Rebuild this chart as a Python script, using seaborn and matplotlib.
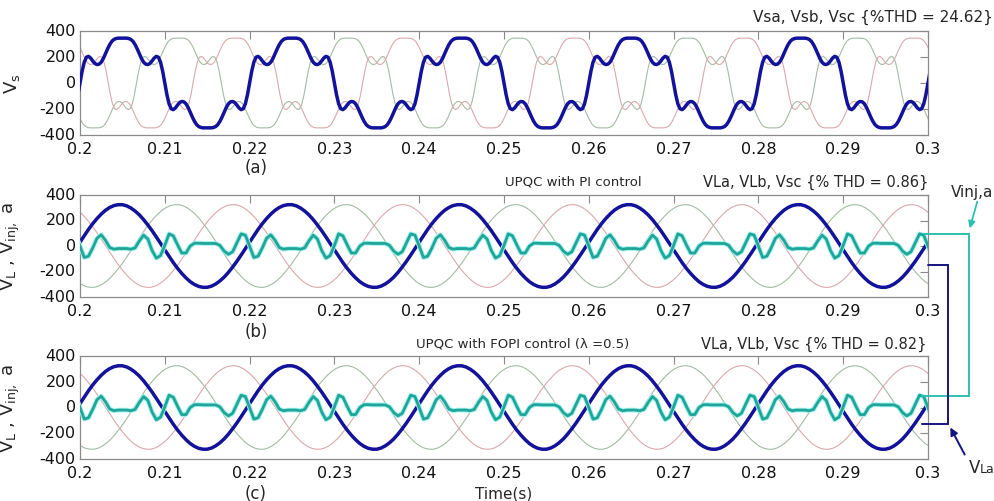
import numpy as np
import matplotlib
matplotlib.use("Agg")
import matplotlib.pyplot as plt
import matplotlib.transforms as mtransforms
import seaborn as sns
from matplotlib.lines import Line2D

# ---------------- data ----------------
period_s = 0.02                      # 50 Hz fundamental
t_start, t_end = 0.2, 0.3
xticks = [0.2, 0.21, 0.22, 0.23, 0.24, 0.25, 0.26, 0.27, 0.28, 0.29, 0.3]
xtick_labels = ["0.2", "0.21", "0.22", "0.23", "0.24", "0.25", "0.26",
                "0.27", "0.28", "0.29", "0.3"]
yticks = [-400, -200, 0, 200, 400]
ytick_labels = ["-400", "-200", "0", "200", "400"]

# (a) distorted source voltage, phase a: first half-cycle every 0.25 ms
vs_step_ms = 0.25
vsa_half = [0, 90, 160, 198, 205, 192, 170, 150, 142, 145,
            160, 188, 225, 262, 295, 320, 335, 342, 345, 345,
            345, 345, 345, 342, 335, 320, 295, 262, 225, 188,
            160, 145, 142, 150, 170, 192, 205, 198, 160, 90]

# (b),(c) compensated load voltage, phase a: first half-cycle every 0.5 ms
vl_step_ms = 0.5
vla_half = [30, 80, 130, 175, 215, 250, 280, 302, 317, 324,
            324, 315, 298, 274, 244, 207, 165, 120, 71, 20]

# (b),(c) injected series voltage, phase a: one full cycle every 0.5 ms
vinj_step_ms = 0.5
vinj_a = [0, -90, -80, -15, 60, 88, 45, -12, -25, -20,
          -20, -20, -25, -15, 40, 85, 55, -35, -95, -75,
          5, 95, 80, 10, -55, -55, 0, 22, 22, 20,
          20, 20, 20, 5, -40, -65, -45, 25, 95, 85]

phase_shift_s = period_s / 3.0       # 120 degrees between phases

# ---------------- styling ----------------
C_BLUE = "#12129a"
C_CYAN = "#20a597"
C_CYAN_GLOW = "#9ff2f2"
C_GREEN = "#a3bca3"
C_PINK = "#dba9ab"
C_AXIS = "#8a8a8a"

sns.set_theme(style="white")
plt.rcParams["font.family"] = ["DejaVu Sans"]
plt.rcParams["mathtext.default"] = "regular"

fig = plt.figure(figsize=(9.95, 5.02), dpi=100)
W, H = 995.0, 502.0


def fx(px):
    return px / W


def fy(py):
    return 1.0 - py / H


def periodic(values, step_ms, shift_s=0.0, n_cycles=8):
    vals = np.asarray(values, dtype=float)
    n = len(vals)
    tt = (t_start - 2 * period_s) + shift_s + np.arange(n * n_cycles + 1) * step_ms * 1e-3
    vv = np.append(np.tile(vals, n_cycles), vals[0])
    return tt, vv


def half_to_full(half):
    h = np.asarray(half, dtype=float)
    return np.concatenate([h, -h])


def draw(ax, values, step_ms, shift_s, color, lw, z):
    tt, vv = periodic(values, step_ms, shift_s)
    sns.lineplot(x=tt, y=vv, ax=ax, color=color, linewidth=lw,
                 estimator=None, sort=False, zorder=z)


def style_axes(ax):
    ax.set_xlim(t_start, t_end)
    ax.set_ylim(-400, 400)
    ax.set_xticks(xticks)
    ax.set_xticklabels(xtick_labels)
    ax.set_yticks(yticks)
    ax.set_yticklabels(ytick_labels)
    ax.tick_params(direction="in", top=True, right=True, length=6, width=0.8,
                   color=C_AXIS, labelsize=11.5, labelcolor="#111111")
    ax.tick_params(axis="x", pad=4)
    ax.tick_params(axis="y", pad=3)
    # lift the y tick labels a touch so "-400" clears the x tick labels
    off = mtransforms.ScaledTranslation(0, 2 / 100.0, fig.dpi_scale_trans)
    for lab in ax.get_yticklabels():
        lab.set_transform(lab.get_transform() + off)
    for s in ax.spines.values():
        s.set_color(C_AXIS)
        s.set_linewidth(0.9)
    ax.set_xlabel("")
    ax.grid(False)


axes_px = [(32, 136), (196, 298), (357, 460)]
axs = []
for top, bot in axes_px:
    ax = fig.add_axes([fx(80), fy(bot), fx(928) - fx(80), (bot - top) / H])
    axs.append(ax)

vsa_full = half_to_full(vsa_half)
vla_full = half_to_full(vla_half)

# (a) source voltages
ax = axs[0]
draw(ax, vsa_full, vs_step_ms, phase_shift_s, C_GREEN, 0.8, 1)
draw(ax, vsa_full, vs_step_ms, -phase_shift_s, C_PINK, 0.8, 1)
draw(ax, vsa_full, vs_step_ms, 0.0, C_BLUE, 2.5, 3)
style_axes(ax)
ax.set_ylabel("V$_{s}$", fontsize=13, labelpad=0)
ax.yaxis.set_label_coords(-0.068, 0.5)

# (b), (c) load voltages and injected voltage
for ax in axs[1:]:
    draw(ax, vla_full, vl_step_ms, phase_shift_s, C_GREEN, 0.8, 1)
    draw(ax, vla_full, vl_step_ms, -phase_shift_s, C_PINK, 0.8, 1)
    draw(ax, vla_full, vl_step_ms, 0.0, C_BLUE, 2.5, 3)
    draw(ax, vinj_a, vinj_step_ms, 0.0, C_CYAN_GLOW, 3.4, 4)
    draw(ax, vinj_a, vinj_step_ms, 0.0, C_CYAN, 2.0, 5)
    style_axes(ax)
    ax.set_ylabel("V$_{L}$ , V$_{inj,}$ a", fontsize=13, labelpad=0)
    ax.yaxis.set_label_coords(-0.068, 0.5)

# ---------------- texts ----------------
fig.text(fx(993), fy(17), "Vsa, Vsb, Vsc {%THD = 24.62}", ha="right", va="center",
         fontsize=11)
fig.text(fx(505), fy(182), "UPQC with PI control", ha="left", va="center", fontsize=9.5)
fig.text(fx(928), fy(182), "VLa, VLb, Vsc {% THD = 0.86}", ha="right", va="center",
         fontsize=10.5)
fig.text(fx(416), fy(344), "UPQC with FOPI control (\u03bb =0.5)", ha="left", va="center",
         fontsize=9.5)
fig.text(fx(927), fy(344), "VLa, VLb, Vsc {% THD = 0.82}", ha="right", va="center",
         fontsize=10.5)
fig.text(fx(256), fy(168), "(a)", ha="center", va="center", fontsize=12)
fig.text(fx(256), fy(332), "(b)", ha="center", va="center", fontsize=12)
fig.text(fx(256), fy(494), "(c)", ha="center", va="center", fontsize=12)
fig.text(fx(504), fy(494), "Time(s)", ha="center", va="center", fontsize=11)

# ---------------- call-out lines ----------------
def seg(x0, y0, x1, y1, color, lw=1.4):
    fig.add_artist(Line2D([fx(x0), fx(x1)], [fy(y0), fy(y1)], color=color, lw=lw,
                          transform=fig.transFigure, zorder=10))

C_CALL_CYAN = "#2fbfb0"
C_CALL_BLUE = "#14147e"
seg(924, 235, 969, 235, C_CALL_CYAN)
seg(969, 235, 969, 397, C_CALL_CYAN)
seg(922, 397, 969, 397, C_CALL_CYAN)
seg(928, 266, 948, 266, C_CALL_BLUE)
seg(948, 266, 948, 425, C_CALL_BLUE)
seg(922, 425, 948, 425, C_CALL_BLUE)

fig.text(fx(972), fy(192), "Vinj,a", ha="center", va="center", fontsize=11)
fig.text(fx(980), fy(468), "V", ha="right", va="center", fontsize=12)
fig.text(fx(980), fy(470), "La", ha="left", va="center", fontsize=9)

ann_kw = dict(xycoords="figure fraction", textcoords="figure fraction")
fig.add_artist(plt.Annotation("", xy=(fx(969), fy(232)), xytext=(fx(978), fy(200)),
                              arrowprops=dict(arrowstyle="-|>", color=C_CALL_CYAN, lw=1.3,
                                              mutation_scale=10), **ann_kw))
fig.add_artist(plt.Annotation("", xy=(fx(949), fy(426)), xytext=(fx(966), fy(458)),
                              arrowprops=dict(arrowstyle="-|>", color=C_CALL_BLUE, lw=1.4,
                                              mutation_scale=11), **ann_kw))

fig.savefig("out.png", dpi=100)
